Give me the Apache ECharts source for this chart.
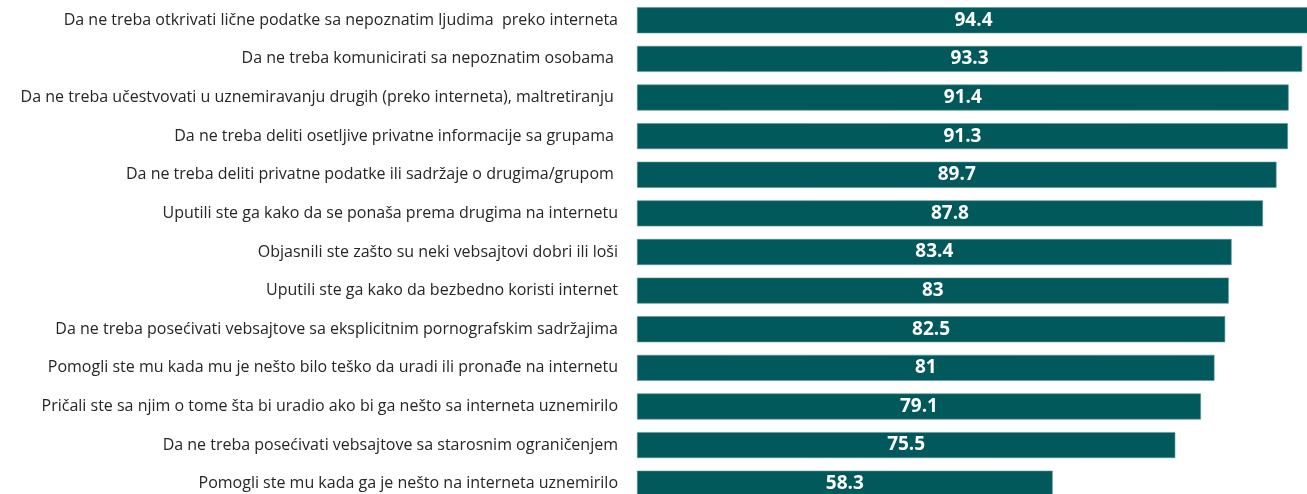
<!DOCTYPE html>
<html>
<head>
<meta charset="utf-8">
<script src="https://cdn.jsdelivr.net/npm/echarts@6/dist/echarts.min.js"></script>
<style>
  html, body { margin: 0; padding: 0; background: #fff; overflow: hidden; }
  /* kontejner je malo veći od prozora: najduža traka i poslednji red su odsečeni kao na originalu */
  #chart { width: 1320px; height: 510px; }
</style>
</head>
<body>
<div id="chart"></div>
<script>
// kategorije, odozgo nadole
const categories = [
    'Da ne treba otkrivati lične podatke sa nepoznatim ljudima  preko interneta',
    'Da ne treba komunicirati sa nepoznatim osobama ',
    'Da ne treba učestvovati u uznemiravanju drugih (preko interneta), maltretiranju ',
    'Da ne treba deliti osetljive privatne informacije sa grupama ',
    'Da ne treba deliti privatne podatke ili sadržaje o drugima/grupom ',
    'Uputili ste ga kako da se ponaša prema drugima na internetu',
    'Objasnili ste zašto su neki vebsajtovi dobri ili loši',
    'Uputili ste ga kako da bezbedno koristi internet',
    'Da ne treba posećivati vebsajtove sa eksplicitnim pornografskim sadržajima',
    'Pomogli ste mu kada mu je nešto bilo teško da uradi ili pronađe na internetu',
    'Pričali ste sa njim o tome šta bi uradio ako bi ga nešto sa interneta uznemirilo',
    'Da ne treba posećivati vebsajtove sa starosnim ograničenjem',
    'Pomogli ste mu kada ga je nešto na interneta uznemirilo'
];
const values = [94.4, 93.3, 91.4, 91.3, 89.7, 87.8, 83.4, 83, 82.5, 81, 79.1, 75.5, 58.3];

let myChart = echarts.init(document.getElementById('chart'));

let option = {
    animation: false,
    grid: { left: 637, right: 0, top: 1, bottom: 7, containLabel: false },
    xAxis: {
        type: 'value',
        min: 0,
        max: 95.8,
        show: false
    },
    yAxis: {
        type: 'category',
        data: categories,
        inverse: true,
        axisLine: { show: false },
        axisTick: { show: false },
        axisLabel: {
            margin: 19,
            fontFamily: 'Open Sans',
            fontSize: 16,
            color: '#262626'
        }
    },
    series: [{
        type: 'bar',
        data: values,
        barWidth: 26,
        itemStyle: { color: '#02595c', borderColor: '#5a9496', borderWidth: 0.6 },
        label: {
            show: true,
            position: 'inside',
            color: '#fff',
            fontFamily: 'Open Sans',
            fontWeight: 'bold',
            fontSize: 19
        }
    }]
};
myChart.setOption(option);
</script>
</body>
</html>
